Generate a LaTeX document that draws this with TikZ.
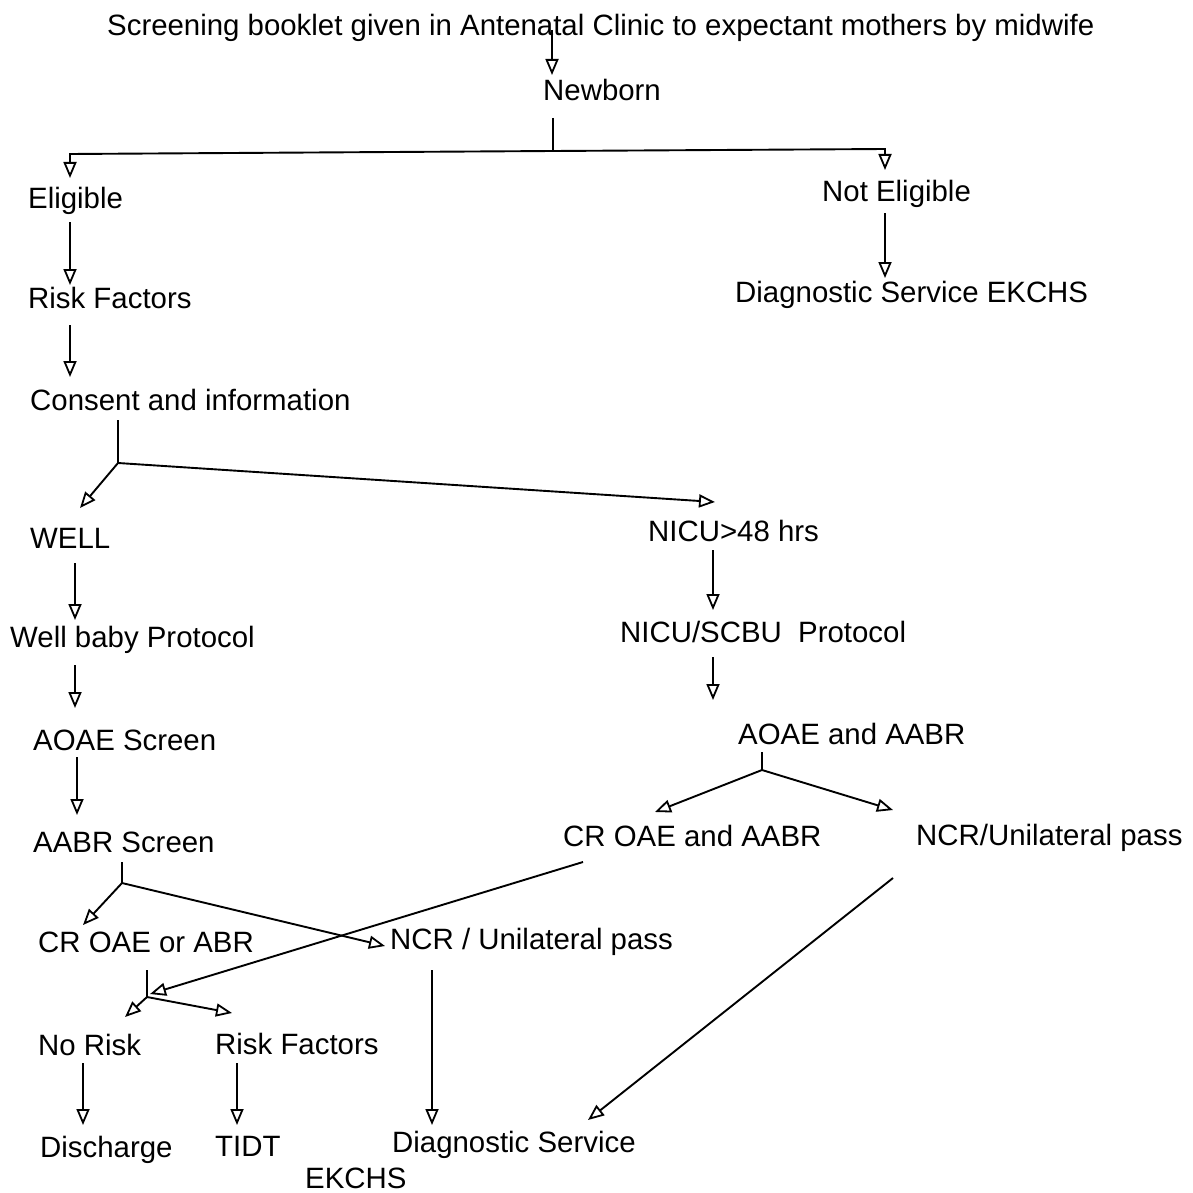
\documentclass[tikz,border=0pt]{standalone}
\usepackage{fontspec}
\setmainfont{Liberation Sans}
\usetikzlibrary{calc,arrows.meta}
\tikzset{
  lbl/.style={anchor=base west, inner sep=0pt, font=\fontsize{29.4}{34}\selectfont},
  conn/.style={line width=1.9pt, draw=black},
  arr/.style={conn, -{Triangle[open,length=16pt,width=13pt,line width=1.8pt]}}
}
\begin{document}
\begin{tikzpicture}[x=1pt,y=-1pt]
\useasboundingbox (0,0) rectangle (1192,1193);
% nodes
\node[lbl] (top) at (107,36) {Screening booklet given in Antenatal Clinic to expectant mothers by midwife};
\node[lbl] (newborn) at (543,101) {Newborn};
\node[lbl] (elig) at (28,208) {Eligible};
\node[lbl] (notelig) at (822,201) {Not Eligible};
\node[lbl] (risk1) at (28,308) {Risk Factors};
\node[lbl] (diag1) at (735,302) {Diagnostic Service EKCHS};
\node[lbl] (consent) at (30,410) {Consent and information};
\node[lbl] (well) at (30,548) {WELL};
\node[lbl] (nicu) at (648,541) {NICU>48 hrs};
\node[lbl] (wellp) at (10,647) {Well baby Protocol};
\node[lbl] (nicup) at (620,642) {NICU/SCBU\ \ Protocol};
\node[lbl] (aoae) at (33,750) {AOAE Screen};
\node[lbl] (aoaeaabr) at (738,744) {AOAE and AABR};
\node[lbl] (aabr) at (33,852) {AABR Screen};
\node[lbl] (croae2) at (563,846) {CR OAE and AABR};
\node[lbl] (ncr2) at (916,845) {NCR/Unilateral pass};
\node[lbl] (croae1) at (38,952) {CR OAE or ABR};
\node[lbl] (ncr1) at (390,949) {NCR / Unilateral pass};
\node[lbl] (norisk) at (38,1055) {No Risk};
\node[lbl] (risk2) at (215,1054) {Risk Factors};
\node[lbl] (discharge) at (40,1157) {Discharge};
\node[lbl] (tidt) at (215,1156) {TIDT};
\node[lbl] (diag2) at (392,1152) {Diagnostic Service};
\node[lbl] (ekchs) at (305,1188) {EKCHS};
% junctions
\coordinate (j1) at ($(newborn.base west)+(10,50)$);
\coordinate (jl) at ($(elig.base west)+(42,-54)$);
\coordinate (jr) at ($(notelig.base west)+(63,-52)$);
\coordinate (j2) at ($(consent.base west)+(88,53)$);
\coordinate (j3) at ($(aoaeaabr.base west)+(24,26)$);
\coordinate (j4) at ($(aabr.base west)+(89,31)$);
\coordinate (j5) at ($(croae1.base west)+(109,45)$);
% connectors
\draw[arr] ($(top.base west)+(445,-6)$) -- ($(newborn.base west)+(9,-26)$);
\draw[conn] ($(newborn.base west)+(10,17)$) -- (j1);
\draw[arr] (j1) -- (jl) -- ($(elig.base west)+(42,-30)$);
\draw[arr] (j1) -- (jr) -- ($(notelig.base west)+(63,-31)$);
\draw[arr] ($(elig.base west)+(42,14)$) -- ($(risk1.base west)+(42,-23)$);
\draw[arr] ($(notelig.base west)+(63,12)$) -- ($(diag1.base west)+(150,-24)$);
\draw[arr] ($(risk1.base west)+(42,17)$) -- ($(consent.base west)+(40,-33)$);
\draw[conn] ($(consent.base west)+(88,10)$) -- (j2);
\draw[arr] (j2) -- ($(well.base west)+(50,-40)$);
\draw[arr] (j2) -- ($(nicu.base west)+(67,-39)$);
\draw[arr] ($(well.base west)+(45,15)$) -- ($(wellp.base west)+(65,-27)$);
\draw[arr] ($(nicu.base west)+(65,9)$) -- ($(nicup.base west)+(93,-32)$);
\draw[arr] ($(wellp.base west)+(65,18)$) -- ($(aoae.base west)+(42,-42)$);
\draw[arr] ($(nicup.base west)+(93,15)$) -- ($(aoaeaabr.base west)+(-25,-44)$);
\draw[arr] ($(aoae.base west)+(44,7)$) -- ($(aabr.base west)+(44,-37)$);
\draw[conn] ($(aoaeaabr.base west)+(24,8)$) -- (j3);
\draw[arr] (j3) -- ($(croae2.base west)+(92,-34)$);
\draw[arr] (j3) -- ($(ncr2.base west)+(-23,-35)$);
\draw[conn] ($(aabr.base west)+(89,10)$) -- (j4);
\draw[arr] (j4) -- ($(croae1.base west)+(45,-27)$);
\draw[arr] (j4) -- ($(ncr1.base west)+(-5,-3)$);
\draw[conn] ($(croae1.base west)+(109,18)$) -- (j5);
\draw[arr] (j5) -- ($(norisk.base west)+(87,-38)$);
\draw[arr] (j5) -- ($(risk2.base west)+(17,-41)$);
\draw[arr] ($(croae2.base west)+(20,16)$) -- ($(j5)+(3,-3)$);
\draw[arr] ($(ncr2.base west)+(-23,33)$) -- ($(diag2.base west)+(196,-32)$);
\draw[arr] ($(ncr1.base west)+(42,21)$) -- ($(diag2.base west)+(40,-27)$);
\draw[arr] ($(norisk.base west)+(45,8)$) -- ($(discharge.base west)+(43,-32)$);
\draw[arr] ($(risk2.base west)+(22,9)$) -- ($(tidt.base west)+(22,-31)$);
\end{tikzpicture}
\end{document}
